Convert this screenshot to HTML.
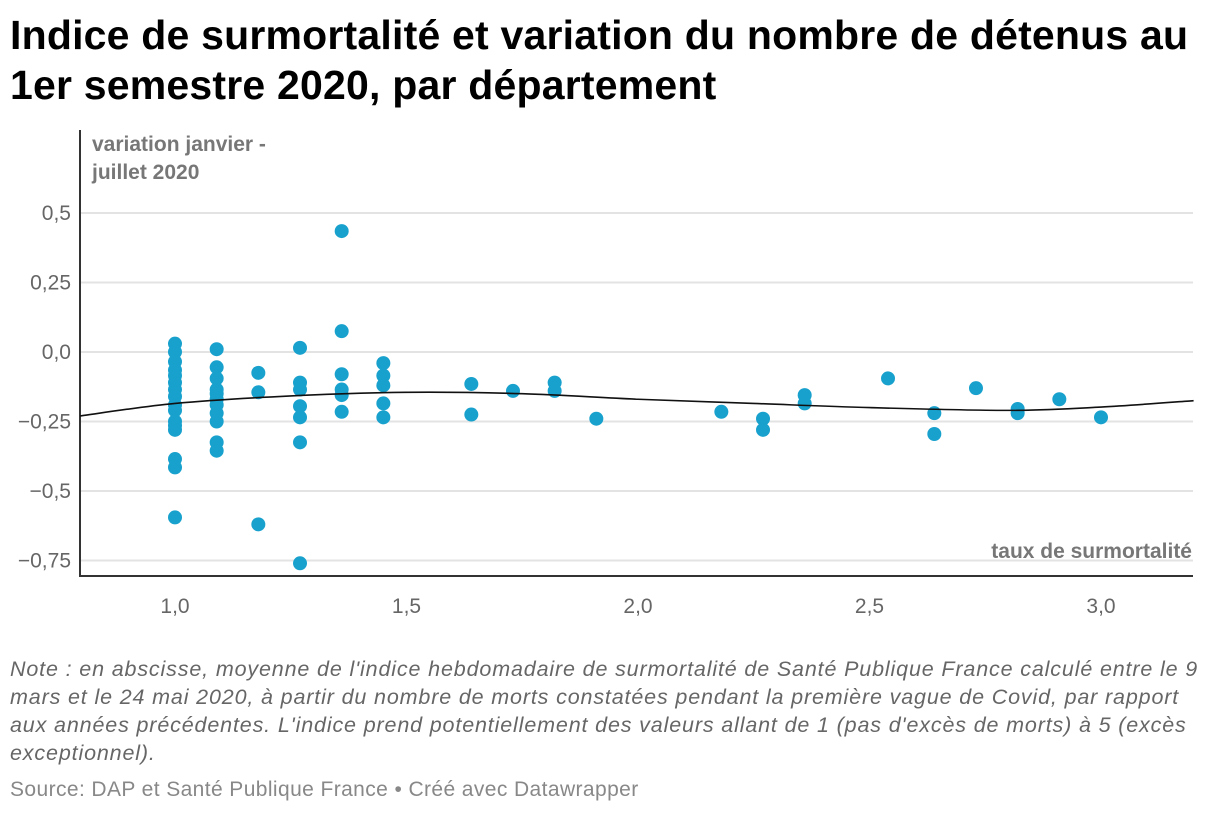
<!DOCTYPE html>
<html><head><meta charset="utf-8"><style>
body{margin:0;background:#fff;font-family:"Liberation Sans",sans-serif;width:1220px;height:814px;overflow:hidden;position:relative}
h1{position:absolute;left:10px;top:10px;margin:0;font-size:41px;line-height:50px;font-weight:bold;color:#000;letter-spacing:0.2px}
.note{position:absolute;left:10px;top:655px;width:1210px;font-size:21.5px;line-height:28px;font-style:italic;color:#666;letter-spacing:0.85px;white-space:nowrap}
.src{position:absolute;left:10px;top:778px;font-size:21px;color:#888;letter-spacing:0.4px}
svg{position:absolute;left:0;top:0}
</style></head><body>
<h1>Indice de surmortalité et variation du nombre de détenus au<br>1er semestre 2020, par département</h1>
<svg id="c" width="1220" height="814"></svg>
<div class="note">Note : en abscisse, moyenne de l'indice hebdomadaire de surmortalité de Santé Publique France calculé entre le 9<br>mars et le 24 mai 2020, à partir du nombre de morts constatées pendant la première vague de Covid, par rapport<br>aux années précédentes. L'indice prend potentiellement des valeurs allant de 1 (pas d'excès de morts) à 5 (excès<br>exceptionnel).</div>
<div class="src">Source: DAP et Santé Publique France • Créé avec Datawrapper</div>
<script>
const xs=[1,1,1,1,1,1,1,1,1,1,1,1,1,1,1,1,
1.09,1.09,1.09,1.09,1.09,1.09,1.09,1.09,1.09,1.09,1.09,
1.18,1.18,1.18,
1.27,1.27,1.27,1.27,1.27,1.27,1.27,
1.36,1.36,1.36,1.36,1.36,1.36,
1.45,1.45,1.45,1.45,1.45,
1.64,1.64,1.73,1.82,1.82,1.91,2.18,2.27,2.27,2.36,2.36,2.54,2.64,2.64,2.73,2.82,2.82,2.91,3.0];
const ys=[0.03,0.0,-0.035,-0.065,-0.085,-0.11,-0.135,-0.16,-0.19,-0.21,-0.25,-0.265,-0.28,-0.385,-0.415,-0.595,
0.01,-0.055,-0.095,-0.135,-0.15,-0.17,-0.19,-0.22,-0.25,-0.325,-0.355,
-0.075,-0.145,-0.62,
0.015,-0.11,-0.135,-0.195,-0.235,-0.325,-0.76,
0.435,0.075,-0.08,-0.135,-0.155,-0.215,
-0.04,-0.085,-0.12,-0.185,-0.235,
-0.115,-0.225,-0.14,-0.11,-0.14,-0.24,-0.215,-0.24,-0.28,-0.155,-0.185,-0.095,-0.22,-0.295,-0.13,-0.205,-0.22,-0.17,-0.235];
const trendX=[0.795,1.0,1.25,1.5,1.75,2.0,2.25,2.5,2.8,3.0,3.2];
const trendY=[-0.23,-0.185,-0.158,-0.145,-0.15,-0.17,-0.185,-0.2,-0.21,-0.198,-0.175];
const yTicks=[0.5,0.25,0,-0.25,-0.5,-0.75];
const yTickLabels=["0,5","0,25","0,0","−0,25","−0,5","−0,75"];
const xTicks=[1,1.5,2,2.5,3];
const xTickLabels=["1,0","1,5","2,0","2,5","3,0"];
const X=v=>175+(v-1)*463, Y=v=>352-v*278;
const svg=document.getElementById('c'),NS='http://www.w3.org/2000/svg';
function mk(t,a){const e=document.createElementNS(NS,t);for(const k in a)e.setAttribute(k,a[k]);svg.appendChild(e);return e;}
yTicks.forEach((t,i)=>{
 const l=mk('line',{x1:80,x2:1193,y1:Y(t),y2:Y(t),stroke:'#e3e3e3','stroke-width':2});
 
 
 const tx=mk('text',{x:71,y:Y(t)+7,'text-anchor':'end','font-size':21,fill:'#666'});tx.textContent=yTickLabels[i];
 
 
});
xTicks.forEach((t,i)=>{
 const tx=mk('text',{x:X(t),y:613,'text-anchor':'middle','font-size':21,fill:'#666'});tx.textContent=xTickLabels[i];
 
 
});
let a=mk('line',{x1:80,x2:80,y1:130,y2:577,stroke:'#333','stroke-width':2});


a=mk('line',{x1:80,x2:1193,y1:576,y2:576,stroke:'#333','stroke-width':2});


let t=mk('text',{x:92,y:151,'font-size':21,'font-weight':'bold',fill:'#777'});t.textContent='variation janvier -';


t=mk('text',{x:92,y:179,'font-size':21,'font-weight':'bold',fill:'#777'});t.textContent='juillet 2020';


t=mk('text',{x:1192,y:558,'text-anchor':'end','font-size':21,'font-weight':'bold',fill:'#777'});t.textContent='taux de surmortalité';


xs.forEach((x,i)=>{
 const c=mk('circle',{cx:X(x),cy:Y(ys[i]),r:7,fill:'#18a1cd'});
 
 
});
const P=trendX.map((x,i)=>[X(x),Y(trendY[i])]);
let d='M'+P[0];
for(let i=0;i<P.length-1;i++){const p0=P[i-1]||P[i],p1=P[i],p2=P[i+1],p3=P[i+2]||p2;
 d+=` C${p1[0]+(p2[0]-p0[0])/6},${p1[1]+(p2[1]-p0[1])/6} ${p2[0]-(p3[0]-p1[0])/6},${p2[1]-(p3[1]-p1[1])/6} ${p2[0]},${p2[1]}`;}
const tl=mk('path',{d:d,fill:'none',stroke:'#111','stroke-width':1.6});


</script>
</body></html>
